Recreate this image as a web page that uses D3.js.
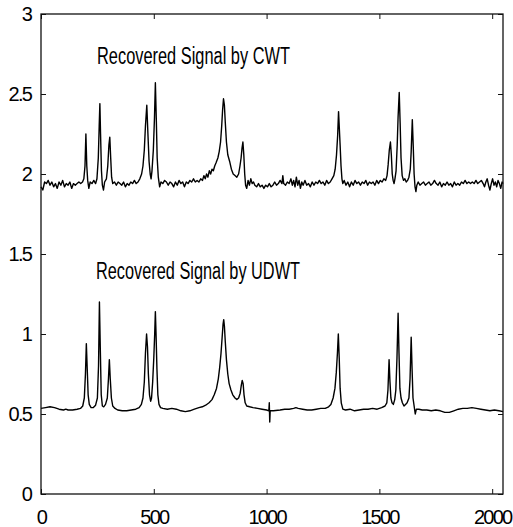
<!DOCTYPE html>
<html><head><meta charset="utf-8">
<script src="https://cdn.jsdelivr.net/npm/d3@7/dist/d3.min.js"></script>
<style>
html,body{margin:0;padding:0;background:#fff;}
svg{display:block;}
text{font-family:"Liberation Sans",Arial,sans-serif;}
</style></head><body>
<svg id="chart" width="513" height="527"></svg>
<script>
const xTicks = [0, 500, 1000, 1500, 2000];
const yTicks = [0, 0.5, 1, 1.5, 2, 2.5, 3];
const yTickLabels = ["0", "0.5", "1", "1.5", "2", "2.5", "3"];
const seriesLabels = ["Recovered Signal by CWT", "Recovered Signal by UDWT"];

const cwtSignal = [[0,1.92],[8,1.90],[16,1.95],[24,1.94],[32,1.96],[40,1.93],[48,1.95],[56,1.92],[64,1.94],[72,1.91],[80,1.95],[88,1.93],[96,1.96],[104,1.92],[112,1.94],[120,1.93],[128,1.95],[136,1.91],[144,1.94],[152,1.93],[160,1.94],[168,1.95],[176,1.94],[184,1.95],[190,1.97],[195,2.05],[199,2.25],[203,2.05],[207,1.96],[212,1.91],[218,1.95],[226,1.94],[234,1.96],[242,1.94],[248,1.97],[254,2.10],[258,2.30],[261,2.44],[264,2.25],[268,2.02],[272,1.93],[277,1.90],[282,1.95],[290,1.97],[296,2.05],[301,2.18],[305,2.23],[309,2.10],[313,1.98],[318,1.94],[326,1.95],[334,1.93],[342,1.95],[350,1.94],[358,1.93],[366,1.95],[374,1.92],[382,1.94],[390,1.93],[398,1.95],[406,1.94],[414,1.96],[422,1.94],[430,1.95],[438,1.97],[446,2.00],[452,2.05],[458,2.15],[463,2.30],[469,2.43],[474,2.25],[479,2.08],[484,2.00],[488,1.97],[492,2.02],[498,2.15],[503,2.35],[507,2.57],[511,2.35],[515,2.10],[520,1.98],[526,1.92],[532,1.95],[540,1.94],[548,1.96],[556,1.95],[564,1.93],[572,1.95],[580,1.94],[588,1.92],[596,1.95],[604,1.93],[612,1.96],[620,1.94],[628,1.95],[636,1.92],[644,1.95],[652,1.94],[660,1.96],[668,1.95],[676,1.97],[684,1.95],[692,1.96],[700,1.95],[708,1.97],[716,1.96],[722,1.99],[728,1.97],[734,2.00],[740,1.98],[746,2.02],[752,2.00],[758,2.03],[764,2.02],[770,2.05],[776,2.07],[784,2.10],[790,2.14],[796,2.20],[801,2.30],[805,2.40],[809,2.47],[813,2.43],[817,2.32],[822,2.20],[828,2.12],[836,2.08],[844,2.03],[852,2.00],[860,1.99],[868,1.98],[876,2.00],[882,2.05],[887,2.10],[891,2.16],[895,2.20],[899,2.12],[903,2.00],[907,1.93],[912,1.91],[918,1.96],[924,1.93],[930,1.97],[936,1.94],[942,1.95],[948,1.93],[956,1.92],[964,1.94],[972,1.92],[980,1.93],[988,1.91],[996,1.93],[1004,1.92],[1012,1.94],[1020,1.92],[1028,1.93],[1036,1.95],[1044,1.93],[1052,1.94],[1060,1.96],[1068,1.94],[1072,1.99],[1076,1.94],[1084,1.93],[1092,1.95],[1100,1.94],[1108,1.97],[1114,1.93],[1120,1.96],[1126,1.92],[1132,1.98],[1138,1.93],[1144,1.96],[1150,1.91],[1156,1.95],[1162,1.93],[1170,1.96],[1178,1.93],[1186,1.94],[1194,1.92],[1202,1.95],[1210,1.93],[1218,1.95],[1226,1.94],[1234,1.96],[1242,1.94],[1250,1.95],[1258,1.93],[1266,1.96],[1274,1.94],[1282,1.95],[1290,1.97],[1298,1.99],[1304,2.03],[1310,2.12],[1315,2.24],[1319,2.39],[1322,2.30],[1326,2.18],[1330,2.05],[1334,1.97],[1338,1.94],[1344,1.96],[1352,1.93],[1360,1.95],[1368,1.92],[1376,1.95],[1384,1.93],[1392,1.96],[1400,1.94],[1408,1.95],[1416,1.93],[1424,1.95],[1432,1.94],[1440,1.96],[1448,1.93],[1456,1.95],[1464,1.94],[1472,1.95],[1480,1.93],[1488,1.96],[1496,1.94],[1504,1.96],[1512,1.95],[1520,1.97],[1528,1.96],[1534,1.99],[1539,2.06],[1544,2.15],[1549,2.20],[1553,2.12],[1557,2.00],[1561,1.96],[1565,1.94],[1569,1.97],[1574,2.02],[1579,2.18],[1583,2.36],[1588,2.51],[1592,2.32],[1596,2.10],[1601,1.99],[1607,1.96],[1613,1.97],[1619,1.95],[1625,1.96],[1631,1.98],[1637,2.03],[1641,2.14],[1646,2.34],[1650,2.18],[1654,2.00],[1658,1.92],[1662,1.89],[1666,1.93],[1672,1.95],[1680,1.93],[1688,1.94],[1696,1.95],[1704,1.93],[1712,1.94],[1720,1.95],[1728,1.93],[1736,1.94],[1744,1.96],[1752,1.94],[1760,1.93],[1768,1.95],[1776,1.92],[1784,1.94],[1792,1.93],[1800,1.95],[1808,1.93],[1816,1.94],[1824,1.92],[1832,1.95],[1840,1.93],[1848,1.94],[1856,1.93],[1864,1.95],[1872,1.94],[1880,1.96],[1888,1.94],[1896,1.95],[1904,1.94],[1912,1.95],[1920,1.94],[1928,1.96],[1936,1.94],[1944,1.95],[1952,1.96],[1960,1.94],[1966,1.92],[1972,1.95],[1978,1.97],[1984,1.93],[1990,1.90],[1996,1.94],[2002,1.97],[2008,1.93],[2014,1.95],[2020,1.92],[2026,1.96],[2032,1.94],[2038,1.91],[2044,1.95],[2048,1.94]];

const udwtSignal = [[0,0.535],[20,0.54],[40,0.545],[60,0.54],[80,0.53],[100,0.525],[110,0.53],[120,0.525],[140,0.525],[160,0.53],[175,0.535],[185,0.55],[192,0.6],[197,0.75],[201,0.94],[205,0.78],[209,0.62],[214,0.56],[222,0.54],[232,0.54],[242,0.555],[250,0.6],[255,0.8],[259,1.2],[263,0.9],[267,0.62],[272,0.55],[278,0.545],[286,0.56],[294,0.6],[299,0.72],[303,0.84],[307,0.72],[312,0.6],[318,0.55],[328,0.535],[340,0.525],[360,0.52],[380,0.52],[400,0.525],[420,0.53],[435,0.54],[445,0.56],[452,0.6],[458,0.7],[463,0.88],[468,1.0],[472,0.92],[476,0.75],[481,0.62],[486,0.58],[490,0.6],[495,0.7],[500,0.85],[504,1.0],[507,1.14],[510,1.0],[514,0.78],[518,0.62],[523,0.56],[530,0.54],[540,0.535],[560,0.53],[580,0.535],[600,0.53],[620,0.52],[640,0.515],[660,0.52],[680,0.53],[700,0.54],[715,0.545],[730,0.555],[745,0.57],[758,0.59],[768,0.62],[778,0.66],[786,0.72],[792,0.79],[798,0.88],[803,0.98],[807,1.06],[810,1.09],[813,1.05],[817,0.95],[822,0.84],[828,0.75],[834,0.69],[842,0.65],[850,0.62],[860,0.6],[868,0.59],[876,0.6],[883,0.63],[888,0.68],[892,0.71],[896,0.69],[900,0.62],[905,0.57],[912,0.55],[925,0.545],[940,0.54],[960,0.535],[980,0.53],[1000,0.525],[1010,0.52],[1012,0.57],[1014,0.45],[1016,0.52],[1030,0.52],[1060,0.525],[1080,0.53],[1100,0.53],[1120,0.535],[1130,0.54],[1140,0.535],[1160,0.53],[1180,0.525],[1200,0.525],[1220,0.53],[1240,0.535],[1260,0.535],[1275,0.545],[1285,0.56],[1295,0.6],[1303,0.66],[1309,0.76],[1314,0.88],[1318,1.0],[1322,0.85],[1326,0.66],[1331,0.57],[1338,0.53],[1350,0.525],[1370,0.53],[1390,0.52],[1410,0.525],[1430,0.53],[1450,0.53],[1470,0.535],[1490,0.53],[1510,0.54],[1525,0.55],[1533,0.57],[1538,0.65],[1543,0.84],[1547,0.7],[1551,0.6],[1556,0.57],[1562,0.56],[1568,0.59],[1573,0.65],[1578,0.85],[1583,1.13],[1587,0.88],[1591,0.66],[1596,0.6],[1602,0.57],[1609,0.55],[1616,0.56],[1623,0.57],[1631,0.6],[1636,0.72],[1641,0.98],[1645,0.78],[1649,0.6],[1654,0.55],[1659,0.5],[1664,0.53],[1675,0.53],[1690,0.525],[1710,0.525],[1730,0.52],[1750,0.525],[1770,0.52],[1790,0.51],[1810,0.51],[1830,0.52],[1850,0.53],[1870,0.535],[1890,0.535],[1910,0.54],[1930,0.535],[1950,0.53],[1970,0.525],[1990,0.52],[2010,0.525],[2030,0.52],[2048,0.515]];

const margin = {left: 41, right: 10, top: 14, bottom: 33};
const W = 513, H = 527;
const svg = d3.select("#chart");
const x = d3.scaleLinear().domain([0, 2048]).range([margin.left, W - margin.right]);
const y = d3.scaleLinear().domain([0, 3]).range([H - margin.bottom, margin.top]);

const line = d3.line().x(d => x(d[0])).y(d => y(d[1]));
[cwtSignal, udwtSignal].forEach(s => {
  svg.append("path").datum(s).attr("d", line)
    .attr("fill", "none").attr("stroke", "#000").attr("stroke-width", 1.4)
    .attr("stroke-linejoin", "round");
});

const tickFont = g => {
  g.selectAll("text").attr("font-size", 20).attr("letter-spacing", -1.8)
    .attr("fill", "#000").attr("font-family", '"Liberation Sans",Arial,sans-serif');
  g.selectAll("line").attr("stroke", "#111");
  g.select(".domain").remove();
};

svg.append("g").attr("transform", `translate(0,${y(0)})`)
  .call(d3.axisBottom(x).tickValues(xTicks).tickSize(-5).tickPadding(16).tickFormat(d3.format("d")))
  .call(tickFont);
svg.append("g").attr("transform", `translate(0,${y(3)})`)
  .call(d3.axisTop(x).tickValues(xTicks).tickSize(-5).tickFormat(""))
  .call(tickFont);
svg.append("g").attr("transform", `translate(${x(0)},0)`)
  .call(d3.axisLeft(y).tickValues(yTicks).tickSize(-5).tickPadding(10).tickFormat((d, i) => yTickLabels[i]))
  .call(tickFont);
svg.append("g").attr("transform", `translate(${x(2048)},0)`)
  .call(d3.axisRight(y).tickValues(yTicks).tickSize(-5).tickFormat(""))
  .call(tickFont);

svg.append("rect").attr("x", x(0)).attr("y", y(3))
  .attr("width", x(2048) - x(0)).attr("height", y(0) - y(3))
  .attr("fill", "none").attr("stroke", "#111").attr("stroke-width", 1.3);

const labelPos = [[97, 2.685], [96, 1.345]];
seriesLabels.forEach((t, i) => {
  svg.append("text").attr("x", labelPos[i][0]).attr("y", y(labelPos[i][1]))
    .attr("font-size", 23).attr("textLength", i === 0 ? 193 : 204)
    .attr("lengthAdjust", "spacingAndGlyphs").attr("fill", "#000").text(t);
});
</script>
</body></html>
